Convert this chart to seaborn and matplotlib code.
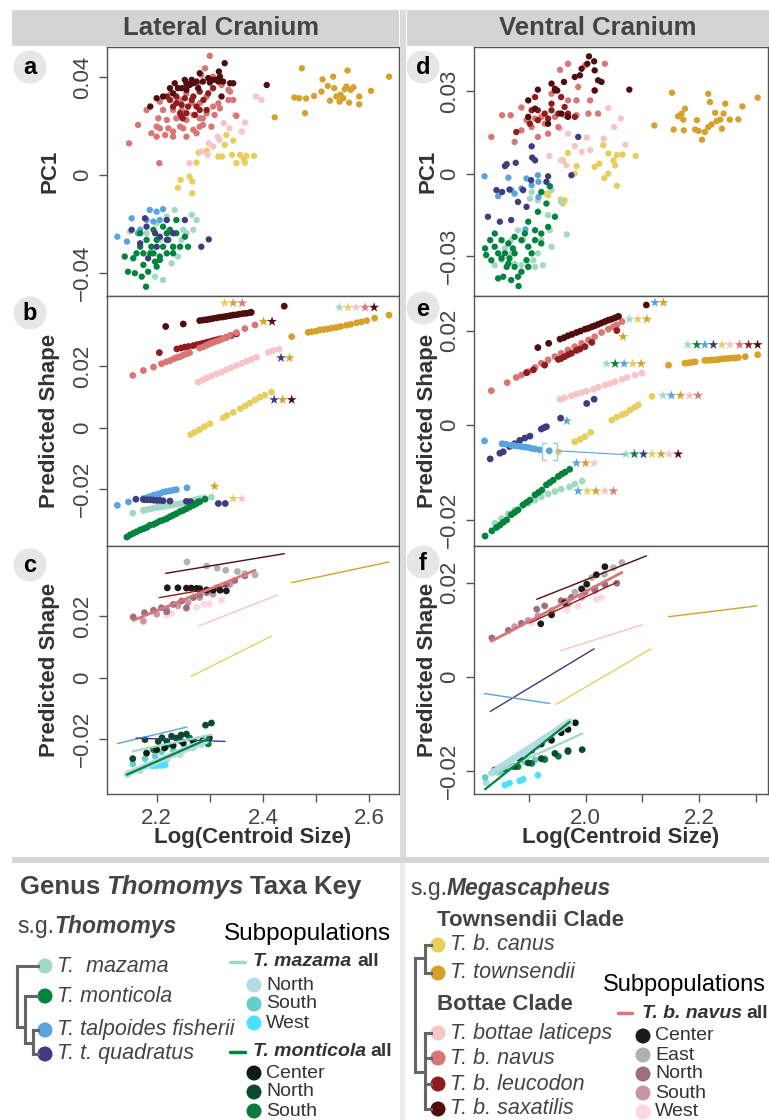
import numpy as np
import pandas as pd
import matplotlib
matplotlib.use("Agg")
import matplotlib.pyplot as plt
from matplotlib.patches import Rectangle, Circle
import seaborn as sns

# ============================================================
# COLOURS
# ============================================================

taxon_colors = {
    "mazama": "#A3D9C3", "monticola": "#00843D", "talpoides": "#5BA3DC",
    "quadratus": "#3D3C80", "canus": "#E6CE5F", "townsendii": "#D5A12B",
    "laticeps": "#F8C4C8", "navus": "#D97575", "leucodon": "#8F1C1E",
    "saxatilis": "#4F0E0E",
}
sub_colors = {
    "maz_N": "#B4DAE5", "maz_S": "#66CCCC", "maz_W": "#4DE1FF",
    "mont_C": "#0A1F12", "mont_N": "#0B4A2A", "mont_S": "#0A7A40",
    "navus_C": "#1A1A1A", "navus_E": "#B0B0B0", "navus_N": "#9C6E7E",
    "navus_S": "#C896A8", "navus_W": "#FFD6E6",
}
palette = {**taxon_colors, **sub_colors}

# ============================================================
# DATA : (a) LATERAL PC1
# ============================================================

lat_pc1 = {
    "townsendii": ([2.473, 2.512, 2.532, 2.559, 2.637, 2.603, 2.570, 2.565, 2.554, 2.546, 2.538, 2.526, 2.544, 2.562,
                    2.581, 2.581, 2.510, 2.496, 2.481, 2.468, 2.459, 2.479, 2.422, 2.522, 2.534, 2.551, 2.557],
                   [0.0435, 0.0390, 0.0401, 0.0426, 0.0401, 0.0343, 0.0358, 0.0347, 0.0350, 0.0327, 0.0320, 0.0303,
                    0.0299, 0.0295, 0.0320, 0.0288, 0.0340, 0.0322, 0.0312, 0.0313, 0.0316, 0.0252, 0.0235, 0.0363,
                    0.0354, 0.0313, 0.0361]),
    "canus": ([2.331, 2.344, 2.328, 2.357, 2.342, 2.369, 2.383, 2.366, 2.350, 2.323, 2.294, 2.279, 2.275, 2.262,
               2.267, 2.245, 2.240, 2.267, 2.316, 2.364],
              [0.0163, 0.0140, 0.0122, 0.0082, 0.0082, 0.0078, 0.0078, 0.0050, 0.0048, 0.0075, 0.0099, 0.0091,
               0.0050, -0.0007, -0.0027, -0.0020, -0.0052, -0.0075, 0.0075, 0.0064]),
    "laticeps": ([2.387, 2.397, 2.366, 2.347, 2.360, 2.326, 2.315, 2.298, 2.296, 2.262, 2.318, 2.337, 2.306, 2.284],
                 [0.0320, 0.0306, 0.0214, 0.0245, 0.0177, 0.0211, 0.0156, 0.0129, 0.0082, 0.0048, 0.0143, 0.0190,
                  0.0116, 0.0095]),
    "navus": ([2.300, 2.291, 2.284, 2.278, 2.306, 2.322, 2.338, 2.335, 2.319, 2.306, 2.294, 2.281, 2.269, 2.256,
               2.244, 2.231, 2.216, 2.200, 2.190, 2.206, 2.219, 2.203, 2.181, 2.165, 2.148, 2.205, 2.231, 2.244,
               2.256, 2.266, 2.281, 2.294, 2.309, 2.303, 2.287, 2.275, 2.256, 2.250, 2.222, 2.350, 2.281, 2.237,
               2.212, 2.247, 2.269, 2.206, 2.227, 2.335, 2.200, 2.231, 2.287, 2.316, 2.344],
              [0.0486, 0.0435, 0.0408, 0.0374, 0.0401, 0.0367, 0.0340, 0.0306, 0.0272, 0.0279, 0.0252, 0.0231,
               0.0245, 0.0224, 0.0197, 0.0177, 0.0163, 0.0156, 0.0170, 0.0190, 0.0224, 0.0231, 0.0265, 0.0204,
               0.0129, 0.0048, 0.0265, 0.0306, 0.0333, 0.0293, 0.0293, 0.0320, 0.0245, 0.0197, 0.0204, 0.0170,
               0.0156, 0.0190, 0.0190, 0.0241, 0.0197, 0.0231, 0.0265, 0.0265, 0.0184, 0.0299, 0.0333, 0.0347,
               0.0197, 0.0156, 0.0231, 0.0292, 0.0306]),
    "leucodon": ([2.244, 2.249, 2.259, 2.275, 2.266, 2.247, 2.231, 2.225, 2.219, 2.253, 2.288, 2.297, 2.281, 2.306,
                  2.256, 2.237, 2.294, 2.272, 2.247, 2.256, 2.237, 2.281, 2.269],
                 [0.0252, 0.0231, 0.0279, 0.0279, 0.0306, 0.0286, 0.0279, 0.0306, 0.0320, 0.0313, 0.0306, 0.0333,
                  0.0340, 0.0354, 0.0361, 0.0320, 0.0265, 0.0245, 0.0238, 0.0252, 0.0293, 0.0265, 0.0320]),
    "saxatilis": ([2.328, 2.317, 2.306, 2.297, 2.281, 2.269, 2.262, 2.256, 2.247, 2.231, 2.225, 2.212, 2.200, 2.188,
                   2.234, 2.253, 2.338, 2.344, 2.316, 2.287, 2.278, 2.322, 2.407, 2.319, 2.300, 2.266, 2.275, 2.313,
                   2.325, 2.240, 2.256],
                  [0.0456, 0.0422, 0.0388, 0.0395, 0.0415, 0.0374, 0.0367, 0.0374, 0.0354, 0.0333, 0.0354, 0.0320,
                   0.0313, 0.0279, 0.0374, 0.0388, 0.0374, 0.0374, 0.0381, 0.0381, 0.0354, 0.0320, 0.0367, 0.0401,
                   0.0377, 0.0388, 0.0381, 0.0388, 0.0381, 0.0354, 0.0347]),
    "mazama": ([2.234, 2.266, 2.275, 2.269, 2.247, 2.240, 2.228, 2.212, 2.197, 2.250, 2.219, 2.200, 2.181, 2.150,
                2.206, 2.231, 2.256, 2.222],
               [-0.0143, -0.0163, -0.0184, -0.0224, -0.0265, -0.0333, -0.0361, -0.0429, -0.0415, -0.0224, -0.0170,
                -0.0197, -0.0238, -0.0231, -0.0265, -0.0299, -0.0238, -0.0238]),
    "talpoides": ([2.126, 2.144, 2.153, 2.187, 2.200, 2.212, 2.169, 2.194, 2.181, 2.165, 2.206],
                  [-0.0252, -0.0272, -0.0177, -0.0143, -0.0150, -0.0140, -0.0224, -0.0190, -0.0184, -0.0238,
                   -0.0184]),
    "monticola": ([2.140, 2.146, 2.159, 2.172, 2.180, 2.184, 2.200, 2.206, 2.219, 2.231, 2.244, 2.259, 2.253, 2.237,
                   2.225, 2.212, 2.194, 2.181, 2.169, 2.156, 2.162, 2.194, 2.212, 2.169, 2.200, 2.237, 2.219, 2.190,
                   2.175, 2.188, 2.206, 2.231, 2.222, 2.175, 2.197],
                  [-0.0333, -0.0395, -0.0401, -0.0415, -0.0456, -0.0395, -0.0374, -0.0333, -0.0320, -0.0293, -0.0293,
                   -0.0293, -0.0252, -0.0238, -0.0224, -0.0211, -0.0224, -0.0265, -0.0293, -0.0340, -0.0320, -0.0320,
                   -0.0293, -0.0238, -0.0265, -0.0184, -0.0238, -0.0293, -0.0367, -0.0320, -0.0347, -0.0320, -0.0265,
                   -0.0320, -0.0354]),
    "quadratus": ([2.153, 2.178, 2.181, 2.197, 2.206, 2.219, 2.231, 2.253, 2.284, 2.298, 2.184, 2.169, 2.200, 2.219],
                  [-0.0224, -0.0177, -0.0211, -0.0238, -0.0252, -0.0265, -0.0238, -0.0184, -0.0293, -0.0263, -0.0340,
                   -0.0279, -0.0293, -0.0184]),
}

# ============================================================
# DATA : (b) LATERAL PREDICTED SHAPE
# ============================================================

lat_pred = {
    "townsendii": ([2.454, 2.485, 2.492, 2.500, 2.507, 2.515, 2.522, 2.530, 2.538, 2.546, 2.557, 2.565, 2.576, 2.585,
                    2.595, 2.610, 2.637],
                   [0.0296, 0.0310, 0.0312, 0.0314, 0.0318, 0.0319, 0.0321, 0.0324, 0.0326, 0.0329, 0.0333, 0.0336,
                    0.0341, 0.0344, 0.0348, 0.0356, 0.0366]),
    "canus": ([2.264, 2.272, 2.281, 2.290, 2.300, 2.325, 2.332, 2.344, 2.357, 2.366, 2.375, 2.385, 2.394, 2.403, 2.416],
              [-0.0022, -0.0014, -0.0006, 0.0004, 0.0013, 0.0032, 0.0040, 0.0050, 0.0062, 0.0071, 0.0080, 0.0090,
               0.0099, 0.0106, 0.0116]),
    "laticeps": ([2.278, 2.286, 2.294, 2.303, 2.313, 2.322, 2.331, 2.340, 2.350, 2.360, 2.369, 2.378, 2.388, 2.410,
                  2.419, 2.430],
                 [0.0148, 0.0155, 0.0162, 0.0168, 0.0175, 0.0181, 0.0188, 0.0195, 0.0202, 0.0209, 0.0216, 0.0222,
                  0.0229, 0.0245, 0.0251, 0.0255]),
    "leucodon": ([2.205, 2.238, 2.246, 2.253, 2.260, 2.269, 2.276, 2.282, 2.288, 2.295, 2.300, 2.306, 2.313, 2.320,
                  2.331, 2.340, 2.350],
                 [0.0244, 0.0256, 0.0259, 0.0262, 0.0264, 0.0267, 0.0270, 0.0272, 0.0275, 0.0278, 0.0280, 0.0283,
                  0.0286, 0.0289, 0.0294, 0.0299, 0.0305]),
    "navus": ([2.155, 2.175, 2.194, 2.209, 2.218, 2.225, 2.232, 2.238, 2.244, 2.250, 2.256, 2.262, 2.281, 2.288,
               2.294, 2.300, 2.306, 2.313, 2.319, 2.325, 2.331, 2.338, 2.350, 2.366, 2.385],
              [0.0170, 0.0186, 0.0197, 0.0208, 0.0214, 0.0218, 0.0224, 0.0228, 0.0231, 0.0236, 0.0240, 0.0244,
               0.0259, 0.0263, 0.0268, 0.0273, 0.0277, 0.0281, 0.0285, 0.0290, 0.0294, 0.0300, 0.0309, 0.0322,
               0.0334]),
    "saxatilis": ([2.217, 2.250, 2.281, 2.288, 2.294, 2.300, 2.306, 2.313, 2.319, 2.325, 2.331, 2.338, 2.344, 2.350,
                   2.356, 2.363, 2.369, 2.375, 2.378, 2.440],
                  [0.0329, 0.0337, 0.0348, 0.0350, 0.0351, 0.0353, 0.0355, 0.0357, 0.0359, 0.0360, 0.0362, 0.0364,
                   0.0366, 0.0367, 0.0369, 0.0371, 0.0372, 0.0374, 0.0375, 0.0395]),
    "talpoides": ([2.126, 2.147, 2.175, 2.181, 2.187, 2.194, 2.200, 2.206, 2.212, 2.218, 2.225, 2.231, 2.237, 2.257],
                  [-0.0252, -0.0241, -0.0230, -0.0227, -0.0224, -0.0219, -0.0217, -0.0214, -0.0209, -0.0207, -0.0205,
                   -0.0203, -0.0201, -0.0195]),
    "mazama": ([2.155, 2.175, 2.181, 2.188, 2.194, 2.200, 2.206, 2.212, 2.219, 2.225, 2.231, 2.237, 2.244, 2.250,
                2.256, 2.262, 2.269, 2.275, 2.281, 2.290, 2.303],
               [-0.0277, -0.0268, -0.0266, -0.0264, -0.0261, -0.0259, -0.0257, -0.0256, -0.0254, -0.0252, -0.0250,
                -0.0248, -0.0246, -0.0244, -0.0241, -0.0238, -0.0236, -0.0233, -0.0230, -0.0228, -0.0225]),
    "quadratus": ([2.161, 2.175, 2.181, 2.188, 2.194, 2.200, 2.206, 2.212, 2.225, 2.256, 2.264, 2.278, 2.316, 2.329],
                  [-0.0232, -0.0233, -0.0234, -0.0234, -0.0235, -0.0236, -0.0236, -0.0237, -0.0238, -0.0239, -0.0240,
                   -0.0241, -0.0246, -0.0246]),
    "monticola": ([2.144, 2.150, 2.156, 2.162, 2.169, 2.175, 2.181, 2.187, 2.194, 2.200, 2.206, 2.212, 2.219, 2.225,
                   2.231, 2.237, 2.244, 2.250, 2.256, 2.262, 2.269, 2.275, 2.281, 2.291],
                  [-0.0355, -0.0348, -0.0343, -0.0338, -0.0332, -0.0328, -0.0324, -0.0317, -0.0314, -0.0309, -0.0303,
                   -0.0300, -0.0295, -0.0289, -0.0284, -0.0279, -0.0272, -0.0268, -0.0263, -0.0257, -0.0252, -0.0246,
                   -0.0240, -0.0232]),
}

lat_star_x = [2.328, 2.344, 2.361, 2.401, 2.417, 2.544, 2.560, 2.575, 2.592, 2.609, 2.434, 2.450, 2.421, 2.437,
              2.454, 2.309, 2.344, 2.360]
lat_star_y = [0.0405, 0.0405, 0.0405, 0.0345, 0.0345, 0.0391, 0.0391, 0.0391, 0.0391, 0.0391, 0.0227, 0.0227,
              0.0091, 0.0091, 0.0091, -0.0190, -0.0230, -0.0230]
lat_star_taxon = ["canus", "townsendii", "navus", "townsendii", "saxatilis", "mazama", "canus", "laticeps", "navus",
                  "saxatilis", "quadratus", "townsendii", "quadratus", "townsendii", "saxatilis", "townsendii",
                  "canus", "laticeps"]

# ============================================================
# DATA : (c) LATERAL SUBPOPULATIONS
# ============================================================

lat_lines = {
    "saxatilis": ([2.217, 2.440], [0.0340, 0.0404]),
    "leucodon": ([2.205, 2.331], [0.0261, 0.0299]),
    "navus": ([2.156, 2.385], [0.0187, 0.0350]),
    "laticeps": ([2.278, 2.428], [0.0168, 0.0270]),
    "canus": ([2.265, 2.416], [0.0005, 0.0136]),
    "townsendii": ([2.454, 2.637], [0.0310, 0.0377]),
    "talpoides": ([2.126, 2.257], [-0.0214, -0.0160]),
    "quadratus": ([2.161, 2.329], [-0.0196, -0.0207]),
    "mazama": ([2.155, 2.303], [-0.0239, -0.0185]),
    "monticola": ([2.144, 2.300], [-0.0315, -0.0196]),
}
lat_band = ([2.144, 2.293], [-0.0313, -0.0205])

lat_sub = {
    "maz_N": ([2.145, 2.169, 2.194, 2.219, 2.244, 2.269, 2.285],
              [-0.0315, -0.0302, -0.0285, -0.0266, -0.0250, -0.0228, -0.0217]),
    "maz_S": ([2.155, 2.178, 2.197, 2.209, 2.231, 2.253, 2.275],
              [-0.0280, -0.0263, -0.0255, -0.0241, -0.0234, -0.0226, -0.0212]),
    "maz_W": ([2.181, 2.192, 2.200, 2.209, 2.216], [-0.0285, -0.0286, -0.0286, -0.0285, -0.0284]),
    "mont_S": ([2.194, 2.219, 2.244, 2.262, 2.281, 2.297], [-0.0234, -0.0220, -0.0204, -0.0196, -0.0212, -0.0215]),
    "mont_N": ([2.155, 2.178, 2.203, 2.210, 2.219, 2.228, 2.237, 2.246, 2.256, 2.292, 2.303],
               [-0.0263, -0.0201, -0.0207, -0.0195, -0.0207, -0.0190, -0.0196, -0.0186, -0.0183, -0.0154, -0.0147]),
    "mont_C": ([2.181, 2.200, 2.215, 2.231, 2.250, 2.269, 2.287, 2.299],
               [-0.0245, -0.0234, -0.0228, -0.0220, -0.0212, -0.0207, -0.0204, -0.0196]),
    "navus_W": ([2.175, 2.218, 2.228, 2.256, 2.275, 2.289, 2.299, 2.322],
                [0.0182, 0.0204, 0.0209, 0.0223, 0.0230, 0.0239, 0.0241, 0.0252]),
    "navus_S": ([2.175, 2.200, 2.219, 2.240, 2.259, 2.281, 2.306, 2.338],
                [0.0185, 0.0207, 0.0223, 0.0234, 0.0245, 0.0261, 0.0272, 0.0304]),
    "navus_N": ([2.156, 2.177, 2.194, 2.209, 2.219, 2.231, 2.247, 2.256, 2.269, 2.281, 2.294, 2.313, 2.331, 2.347,
                 2.366],
                [0.0198, 0.0212, 0.0220, 0.0228, 0.0215, 0.0239, 0.0250, 0.0228, 0.0261, 0.0270, 0.0277, 0.0293,
                 0.0304, 0.0317, 0.0332]),
    "navus_E": ([2.257, 2.294, 2.314, 2.330, 2.352, 2.366, 2.385],
                [0.0377, 0.0364, 0.0357, 0.0350, 0.0346, 0.0339, 0.0335]),
    "navus_C": ([2.220, 2.240, 2.256, 2.265, 2.275, 2.281, 2.294, 2.306, 2.319, 2.331],
                [0.0293, 0.0293, 0.0292, 0.0292, 0.0291, 0.0290, 0.0286, 0.0285, 0.0285, 0.0283]),
}

# ============================================================
# DATA : (d) VENTRAL PC1
# ============================================================

ven_pc1 = {
    "townsendii": ([2.152, 2.216, 2.303, 2.276, 2.246, 2.219, 2.228, 2.243, 2.269, 2.254, 2.237, 2.231, 2.222, 2.216,
                    2.210, 2.205, 2.196, 2.199, 2.240, 2.175, 2.169, 2.163, 2.172, 2.155, 2.173, 2.121, 2.193],
                   [0.0294, 0.0290, 0.0276, 0.0244, 0.0254, 0.0260, 0.0221, 0.0218, 0.0197, 0.0196, 0.0196, 0.0191,
                    0.0179, 0.0169, 0.0151, 0.0123, 0.0194, 0.0155, 0.0163, 0.0236, 0.0218, 0.0208, 0.0196, 0.0160,
                    0.0157, 0.0175, 0.0160]),
    "canus": ([2.031, 2.040, 2.055, 2.065, 2.088, 2.049, 2.052, 2.040, 2.033, 2.055, 2.024, 2.016, 1.969, 1.960,
               1.984, 1.981, 1.956, 1.963, 1.960, 1.934, 1.931],
              [0.0103, 0.0073, 0.0067, 0.0069, 0.0064, 0.0048, 0.0030, 0.0000, -0.0016, -0.0045, 0.0036, 0.0024,
               0.0075, 0.0048, 0.0027, 0.0000, -0.0094, -0.0097, -0.0109, -0.0079, -0.0073]),
    "laticeps": ([2.040, 2.062, 2.050, 2.032, 2.070, 2.002, 1.981, 1.993, 1.969, 1.955, 1.936, 1.957, 1.966, 2.008],
                 [0.0238, 0.0200, 0.0169, 0.0127, 0.0105, 0.0131, 0.0100, 0.0079, 0.0145, 0.0163, 0.0064, 0.0048,
                  0.0030, 0.0085]),
    "navus": ([1.969, 1.999, 2.034, 1.955, 2.016, 2.008, 2.005, 2.022, 1.984, 1.963, 1.946, 1.922, 1.911, 1.896,
               1.887, 1.868, 1.853, 1.834, 1.875, 1.887, 1.905, 1.899, 1.928, 1.952, 1.934, 1.916, 1.969, 1.984,
               1.940, 1.987],
              [0.0399, 0.0393, 0.0399, 0.0377, 0.0302, 0.0266, 0.0218, 0.0218, 0.0212, 0.0212, 0.0206, 0.0206,
               0.0200, 0.0194, 0.0240, 0.0212, 0.0212, 0.0133, 0.0115, 0.0157, 0.0169, 0.0194, 0.0181, 0.0169,
               0.0145, 0.0133, 0.0266, 0.0266, 0.0290, 0.0315]),
    "leucodon": ([1.946, 1.957, 1.963, 1.952, 1.940, 1.928, 1.916, 1.905, 1.911, 1.940, 1.969, 1.981, 1.934, 1.878,
                  1.902, 1.916],
                 [0.0302, 0.0278, 0.0242, 0.0218, 0.0230, 0.0218, 0.0230, 0.0230, 0.0278, 0.0254, 0.0218, 0.0206,
                  0.0200, 0.0151, 0.0181, 0.0194]),
    "saxatilis": ([2.006, 2.015, 2.003, 1.993, 2.016, 2.028, 2.022, 1.990, 1.981, 1.962, 1.946, 1.916, 1.950, 2.016,
                   2.077, 1.899, 1.911, 1.899, 1.934, 1.957, 1.969, 1.940],
                  [0.0426, 0.0408, 0.0399, 0.0381, 0.0375, 0.0333, 0.0339, 0.0357, 0.0351, 0.0333, 0.0308, 0.0305,
                   0.0302, 0.0302, 0.0305, 0.0266, 0.0236, 0.0206, 0.0181, 0.0218, 0.0206, 0.0327]),
    "mazama": ([1.905, 1.916, 1.902, 1.940, 1.957, 1.967, 1.934, 1.937, 1.922, 1.916, 1.899, 1.887, 1.869, 1.852,
                1.840, 1.908, 1.869, 1.881, 1.925, 1.940, 1.890, 1.858, 1.899, 1.875, 1.911],
               [-0.0067, -0.0097, -0.0091, -0.0060, -0.0103, -0.0221, -0.0151, -0.0206, -0.0242, -0.0290, -0.0339,
                -0.0333, -0.0290, -0.0315, -0.0333, -0.0315, -0.0242, -0.0206, -0.0333, -0.0266, -0.0242, -0.0272,
                -0.0266, -0.0327, -0.0339]),
    "talpoides": ([1.822, 1.864, 1.896, 1.916, 1.917, 1.846, 1.869, 1.887, 1.905, 1.917, 1.894, 1.875],
                  [-0.0010, -0.0015, -0.0018, -0.0006, -0.0030, -0.0082, -0.0060, -0.0054, -0.0042, -0.0085, -0.0203,
                   -0.0073]),
    "quadratus": ([1.987, 1.905, 1.906, 1.911, 1.861, 1.858, 1.877, 1.843, 1.853, 1.866, 1.828, 1.849, 1.869, 1.890,
                   1.881, 1.934, 1.975, 1.931, 1.896, 1.904],
                  [0.0133, 0.0099, 0.0058, 0.0048, 0.0034, 0.0027, 0.0039, -0.0060, -0.0067, -0.0058, -0.0157,
                   -0.0175, -0.0169, -0.0060, -0.0103, -0.0010, -0.0006, -0.0030, -0.0121, -0.0024]),
    "monticola": ([1.937, 1.922, 1.931, 1.916, 1.899, 1.911, 1.922, 1.911, 1.899, 1.887, 1.875, 1.864, 1.852, 1.840,
                   1.832, 1.823, 1.825, 1.834, 1.852, 1.864, 1.875, 1.887, 1.881, 1.869, 1.855, 1.846, 1.882, 1.899,
                   1.922, 1.934, 1.946, 1.875, 1.858, 1.840, 1.846, 1.866, 1.872, 1.893, 1.905, 1.861, 1.896],
                  [-0.0046, -0.0067, -0.0109, -0.0139, -0.0175, -0.0206, -0.0218, -0.0242, -0.0266, -0.0242, -0.0230,
                   -0.0254, -0.0242, -0.0218, -0.0242, -0.0272, -0.0296, -0.0315, -0.0308, -0.0327, -0.0339, -0.0357,
                   -0.0375, -0.0387, -0.0375, -0.0381, -0.0409, -0.0339, -0.0254, -0.0194, -0.0157, -0.0290, -0.0290,
                   -0.0266, -0.0290, -0.0308, -0.0272, -0.0218, -0.0290, -0.0339, -0.0315]),
}

# ============================================================
# DATA : (e) VENTRAL PREDICTED SHAPE
# ============================================================

ven_pred = {
    "townsendii": ([2.146, 2.175, 2.181, 2.187, 2.193, 2.210, 2.216, 2.222, 2.228, 2.234, 2.240, 2.246, 2.252, 2.258,
                    2.263, 2.269, 2.281, 2.303],
                   [0.0127, 0.0131, 0.0132, 0.0133, 0.0134, 0.0137, 0.0137, 0.0138, 0.0138, 0.0139, 0.0140, 0.0141,
                    0.0141, 0.0142, 0.0142, 0.0143, 0.0145, 0.0149]),
    "canus": ([1.952, 1.981, 1.990, 1.999, 2.009, 2.046, 2.055, 2.064, 2.070, 2.078, 2.087, 2.093, 2.117],
              [-0.0056, -0.0035, -0.0030, -0.0024, -0.0015, 0.0011, 0.0017, 0.0022, 0.0025, 0.0032, 0.0038, 0.0043,
               0.0061]),
    "laticeps": ([1.955, 1.963, 1.975, 1.984, 1.993, 2.002, 2.014, 2.022, 2.034, 2.043, 2.052, 2.064, 2.073, 2.087,
                  2.099],
                 [0.0055, 0.0058, 0.0062, 0.0066, 0.0069, 0.0072, 0.0076, 0.0080, 0.0085, 0.0088, 0.0092, 0.0097,
                  0.0101, 0.0106, 0.0110]),
    "navus": ([1.834, 1.862, 1.878, 1.887, 1.899, 1.911, 1.922, 1.934, 1.946, 1.957, 1.969, 1.981, 1.993, 2.005,
               2.016, 2.028, 2.040, 2.049, 2.055, 2.064],
              [0.0073, 0.0090, 0.0101, 0.0106, 0.0113, 0.0122, 0.0131, 0.0138, 0.0145, 0.0152, 0.0159, 0.0166,
               0.0173, 0.0180, 0.0187, 0.0196, 0.0203, 0.0208, 0.0212, 0.0219]),
    "leucodon": ([1.896, 1.908, 1.928, 1.952, 1.957, 1.963, 1.969, 1.975, 1.984, 1.990, 1.999, 2.011, 2.055],
                 [0.0111, 0.0117, 0.0127, 0.0139, 0.0141, 0.0145, 0.0149, 0.0152, 0.0158, 0.0161, 0.0166, 0.0175,
                  0.0200]),
    "saxatilis": ([1.916, 1.935, 1.955, 1.962, 1.969, 1.976, 1.984, 1.991, 1.999, 2.005, 2.011, 2.016, 2.022, 2.028,
                   2.034, 2.040, 2.046, 2.052, 2.058, 2.107],
                  [0.0164, 0.0173, 0.0182, 0.0185, 0.0189, 0.0192, 0.0196, 0.0199, 0.0203, 0.0205, 0.0208, 0.0210,
                   0.0213, 0.0216, 0.0219, 0.0222, 0.0224, 0.0227, 0.0230, 0.0254]),
    "quadratus": ([1.832, 1.849, 1.855, 1.866, 1.875, 1.884, 1.893, 1.902, 1.922, 1.927, 1.931, 1.956, 2.002, 2.015],
                  [-0.0071, -0.0059, -0.0056, -0.0045, -0.0039, -0.0032, -0.0027, -0.0023, -0.0008, -0.0005, -0.0003,
                   0.0015, 0.0046, 0.0055]),
    "talpoides": ([1.822, 1.853, 1.860, 1.869, 1.875, 1.881, 1.887, 1.893, 1.899, 1.905, 1.911, 1.919, 1.936],
                  [-0.0033, -0.0039, -0.0040, -0.0042, -0.0043, -0.0044, -0.0045, -0.0046, -0.0047, -0.0049, -0.0050,
                   -0.0052, -0.0054]),
    "mazama": ([1.840, 1.852, 1.864, 1.875, 1.887, 1.899, 1.911, 1.922, 1.934, 1.946, 1.957, 1.972, 1.981, 1.994],
               [-0.0207, -0.0197, -0.0187, -0.0179, -0.0172, -0.0165, -0.0158, -0.0151, -0.0145, -0.0140, -0.0135,
                -0.0130, -0.0124, -0.0118]),
    "monticola": ([1.823, 1.835, 1.843, 1.849, 1.855, 1.861, 1.869, 1.875, 1.881, 1.890, 1.896, 1.902, 1.911, 1.917,
                   1.923, 1.931, 1.937, 1.943, 1.952, 1.958, 1.964, 1.972],
                  [-0.0234, -0.0223, -0.0216, -0.0211, -0.0205, -0.0200, -0.0189, -0.0184, -0.0179, -0.0168, -0.0163,
                   -0.0158, -0.0147, -0.0142, -0.0137, -0.0126, -0.0121, -0.0116, -0.0108, -0.0103, -0.0099, -0.0093]),
}

ven_star_x = [2.122, 2.137, 2.077, 2.092, 2.108, 2.066, 2.180, 2.196, 2.210, 2.225, 2.240, 2.254, 2.271, 2.287,
              2.303, 2.037, 2.052, 2.068, 2.083, 2.098, 2.136, 2.151, 2.167, 2.183, 2.198, 1.967, 2.071, 2.086,
              2.102, 2.117, 2.133, 2.147, 2.163, 1.984, 2.000, 2.015, 1.987, 2.003, 2.018, 2.034, 2.049]
ven_star_y = [0.0259, 0.0259, 0.0224, 0.0224, 0.0224, 0.0187, 0.0170, 0.0170, 0.0170, 0.0170, 0.0170, 0.0170,
              0.0170, 0.0170, 0.0170, 0.0130, 0.0130, 0.0130, 0.0130, 0.0130, 0.0063, 0.0063, 0.0063, 0.0063,
              0.0063, 0.0009, -0.0061, -0.0061, -0.0061, -0.0061, -0.0061, -0.0061, -0.0061, -0.0080, -0.0080,
              -0.0080, -0.0139, -0.0139, -0.0139, -0.0139, -0.0139]
ven_star_taxon = ["talpoides", "townsendii", "mazama", "canus", "townsendii", "townsendii", "mazama", "monticola",
                  "talpoides", "quadratus", "canus", "laticeps", "navus", "leucodon", "saxatilis", "mazama",
                  "monticola", "talpoides", "canus", "townsendii", "mazama", "talpoides", "townsendii", "laticeps",
                  "navus", "talpoides", "mazama", "monticola", "quadratus", "canus", "townsendii", "laticeps",
                  "saxatilis", "talpoides", "townsendii", "laticeps", "talpoides", "canus", "townsendii",
                  "laticeps", "navus"]

ven_bracket_left_x = [1.931, 1.9235, 1.9235, 1.931]
ven_bracket_right_x = [1.9425, 1.950, 1.950, 1.9425]
ven_bracket_y = [-0.0037, -0.0037, -0.0073, -0.0073]
ven_link_x = [1.950, 2.070]
ven_link_y = [-0.0054, -0.0062]

# ============================================================
# DATA : (f) VENTRAL SUBPOPULATIONS
# ============================================================

ven_lines = {
    "saxatilis": ([1.914, 2.107], [0.0165, 0.0257]),
    "leucodon": ([1.902, 2.055], [0.0115, 0.0201]),
    "navus": ([1.834, 2.064], [0.0076, 0.0222]),
    "laticeps": ([1.956, 2.100], [0.0056, 0.0111]),
    "townsendii": ([2.146, 2.302], [0.0128, 0.0151]),
    "quadratus": ([1.832, 2.015], [-0.0073, 0.0060]),
    "talpoides": ([1.822, 1.937], [-0.0035, -0.0056]),
    "canus": ([1.948, 2.115], [-0.0058, 0.0060]),
    "mazama": ([1.840, 1.994], [-0.0204, -0.0120]),
    "monticola": ([1.823, 1.972], [-0.0238, -0.0095]),
}
ven_band = ([1.834, 1.972], [-0.0204, -0.0095])

ven_sub = {
    "maz_N": ([1.825, 1.846, 1.869, 1.893, 1.916, 1.940, 1.963],
              [-0.0224, -0.0204, -0.0185, -0.0165, -0.0146, -0.0128, -0.0109]),
    "maz_S": ([1.823, 1.852, 1.869, 1.893, 1.911, 1.928], [-0.0213, -0.0201, -0.0190, -0.0180, -0.0176, -0.0173]),
    "maz_W": ([1.858, 1.866, 1.884, 1.890, 1.916], [-0.0229, -0.0225, -0.0220, -0.0217, -0.0208]),
    "mont_S": ([1.858, 1.881, 1.905, 1.928, 1.952, 1.969], [-0.0194, -0.0190, -0.0183, -0.0175, -0.0168, -0.0158]),
    "mont_N": ([1.843, 1.875, 1.899, 1.922, 1.946, 1.969, 1.994],
               [-0.0197, -0.0190, -0.0182, -0.0173, -0.0162, -0.0156, -0.0154]),
    "mont_C": ([1.840, 1.864, 1.884, 1.905, 1.922, 1.940, 1.957, 1.969, 1.982],
               [-0.0197, -0.0182, -0.0173, -0.0155, -0.0142, -0.0134, -0.0118, -0.0111, -0.0097]),
    "navus_W": ([1.864, 1.905, 1.966, 1.987, 2.019, 2.028], [0.0099, 0.0114, 0.0142, 0.0151, 0.0165, 0.0169]),
    "navus_S": ([1.875, 1.899, 1.916, 1.940, 1.969, 1.993, 2.016],
                [0.0107, 0.0120, 0.0130, 0.0141, 0.0155, 0.0169, 0.0183]),
    "navus_N": ([1.835, 1.864, 1.887, 1.914, 1.928, 1.957, 1.975, 1.999, 2.016, 2.034, 2.055],
                [0.0083, 0.0099, 0.0114, 0.0144, 0.0151, 0.0162, 0.0169, 0.0180, 0.0187, 0.0196, 0.0199]),
    "navus_E": ([1.981, 2.011, 2.033, 2.064, 2.049, 1.966], [0.0180, 0.0211, 0.0218, 0.0243, 0.0232, 0.0162]),
    "navus_C": ([1.921, 1.940, 1.963, 1.993, 2.002, 2.019, 2.034],
                [0.0113, 0.0132, 0.0158, 0.0187, 0.0197, 0.0217, 0.0234]),
}

# ============================================================
# THEME
# ============================================================

sns.set_style("ticks")
plt.rcParams["font.family"] = ["Liberation Sans", "DejaVu Sans"]

W, H = 769, 1120
fig = plt.figure(figsize=(W / 100, H / 100), dpi=100)
fig.patch.set_facecolor("white")


def panel(x0, y0, x1, y1):
    return fig.add_axes([x0 / W, 1 - y1 / H, (x1 - x0) / W, (y1 - y0) / H])


def long_frame(groups):
    rows = [(g, x, y) for g, (xs, ys) in groups.items() for x, y in zip(xs, ys)]
    return pd.DataFrame(rows, columns=["group", "x", "y"])


def draw_points(ax, groups, size=21):
    sns.scatterplot(data=long_frame(groups), x="x", y="y", hue="group", palette=palette,
                    s=size, linewidth=0, legend=False, ax=ax)


def draw_stars(ax, xs, ys, taxa):
    df = pd.DataFrame({"x": xs, "y": ys, "group": taxa})
    sns.scatterplot(data=df, x="x", y="y", hue="group", palette=palette, marker="*",
                    s=55, linewidth=0, legend=False, ax=ax)


def draw_lines(ax, lines, widths):
    for name, (xs, ys) in lines.items():
        sns.lineplot(x=xs, y=ys, color=taxon_colors[name], linewidth=widths.get(name, 1.0),
                     estimator=None, sort=False, ax=ax)


def tick_text(v):
    return "0" if v == 0 else f"{v:.2f}".replace("-", "\u2212")


def style_axes(ax, xlim, ylim, yticks, xticks=None, xlabels=None):
    ax.set_xlim(*xlim)
    ax.set_ylim(*ylim)
    ax.set_xlabel("")
    ax.set_ylabel("")
    for sp in ax.spines.values():
        sp.set_visible(True)
        sp.set_color("#555555")
        sp.set_linewidth(1.0)
    ax.set_yticks(yticks)
    ax.set_yticklabels([tick_text(v) for v in yticks], rotation=90, va="center")
    if xticks is None:
        ax.set_xticks([])
    else:
        ax.set_xticks(xticks)
        ax.set_xticklabels(xlabels)
    ax.tick_params(axis="both", direction="out", length=6, width=1, color="#555555",
                   labelcolor="#444444", labelsize=16, pad=4)


LAT_X = (2.1066, 2.6558)
VEN_X = (1.8035, 2.3212)
lat_xticks, lat_xlabels = [2.2, 2.3, 2.4, 2.5, 2.6], ["2.2", "", "2.4", "", "2.6"]
ven_xticks, ven_xlabels = [1.9, 2.0, 2.1, 2.2, 2.3], ["", "2.0", "", "2.2", ""]

sub_widths = {"navus": 2.0, "mazama": 1.6, "monticola": 1.6}

# ---------------- lateral column ----------------
ax_a = panel(107, 47, 399, 296)
draw_points(ax_a, lat_pc1)
style_axes(ax_a, LAT_X, (-0.0494, 0.0522), [-0.04, 0, 0.04])

ax_b = panel(107, 296, 399, 546)
draw_points(ax_b, lat_pred, size=24)
draw_stars(ax_b, lat_star_x, lat_star_y, lat_star_taxon)
style_axes(ax_b, LAT_X, (-0.0384, 0.0428), [-0.02, 0, 0.02])

ax_c = panel(107, 546, 399, 794)
sns.lineplot(x=lat_band[0], y=lat_band[1], color=sub_colors["maz_N"], linewidth=4.5, ax=ax_c)
draw_points(ax_c, lat_sub, size=24)
draw_lines(ax_c, lat_lines, sub_widths)
style_axes(ax_c, LAT_X, (-0.0378, 0.0429), [-0.02, 0, 0.02], lat_xticks, lat_xlabels)

# ---------------- ventral column ----------------
ax_d = panel(474, 47, 768, 296)
draw_points(ax_d, ven_pc1)
style_axes(ax_d, VEN_X, (-0.0445, 0.0460), [-0.03, 0, 0.03])

ax_e = panel(474, 296, 768, 546)
draw_points(ax_e, ven_pred, size=24)
sns.lineplot(x=ven_link_x, y=ven_link_y, color=taxon_colors["talpoides"], linewidth=0.8, ax=ax_e)
sns.lineplot(x=ven_bracket_left_x, y=ven_bracket_y, color="#9CC8EC", linewidth=1.0,
             estimator=None, sort=False, ax=ax_e)
sns.lineplot(x=ven_bracket_right_x, y=ven_bracket_y, color="#9CC8EC", linewidth=1.0,
             estimator=None, sort=False, ax=ax_e)
draw_stars(ax_e, ven_star_x, ven_star_y, ven_star_taxon)
style_axes(ax_e, VEN_X, (-0.0255, 0.0273), [-0.02, 0, 0.02])

ax_f = panel(474, 546, 768, 794)
sns.lineplot(x=ven_band[0], y=ven_band[1], color=sub_colors["maz_N"], linewidth=5, ax=ax_f)
draw_points(ax_f, ven_sub, size=24)
draw_lines(ax_f, ven_lines, sub_widths)
style_axes(ax_f, VEN_X, (-0.0248, 0.0278), [-0.02, 0, 0.02], ven_xticks, ven_xlabels)

# ============================================================
# OVERLAY (pixel coordinates) : strips, labels, taxa key
# ============================================================

ov = fig.add_axes([0, 0, 1, 1])
ov.set_xlim(0, W)
ov.set_ylim(H, 0)
ov.axis("off")
ov.patch.set_alpha(0)

GREY_TXT = "#444444"
ov.add_patch(Rectangle((12, 10), 387, 36, color="#D4D4D4", lw=0))
ov.add_patch(Rectangle((407, 10), 362, 36, color="#D4D4D4", lw=0))
ov.add_patch(Rectangle((400, 10), 6, 848, color="#DCDCDC", lw=0))
ov.add_patch(Rectangle((12, 857), 757, 6, color="#D6D6D6", lw=0))
ov.add_patch(Rectangle((400, 863), 5, 257, color="#EDEDED", lw=0))

ov.text(221, 28, "Lateral Cranium", ha="center", va="center", fontsize=18.5, fontweight="bold", color=GREY_TXT)
ov.text(598, 28, "Ventral Cranium", ha="center", va="center", fontsize=18.5, fontweight="bold", color=GREY_TXT)

for (cx, cy), letter in zip([(30, 67), (30, 313), (30, 565), (423, 67), (423, 308), (423, 562)], "abcdef"):
    ov.add_patch(Circle((cx, cy), 16.5, color="#E6E6E6", lw=0))
    ov.text(cx, cy + 1, letter, ha="center", va="center", fontsize=17, fontweight="bold", color="black")

for lx in (50, 428):
    ov.text(lx, 171, "PC1", rotation=90, ha="center", va="center", fontsize=16, fontweight="bold", color="#333333")
    ov.text(lx, 421, "Predicted Shape", rotation=90, ha="center", va="center", fontsize=16,
            fontweight="bold", color="#333333")
    ov.text(lx, 670, "Predicted Shape", rotation=90, ha="center", va="center", fontsize=16,
            fontweight="bold", color="#333333")
ov.text(253, 838, "Log(Centroid Size)", ha="center", va="center", fontsize=16, fontweight="bold", color="#333333")
ov.text(621, 838, "Log(Centroid Size)", ha="center", va="center", fontsize=16, fontweight="bold", color="#333333")

renderer = fig.canvas.get_renderer()


def chain(x, y, parts, size, color):
    for text, weight, style, gap in parts:
        t = ov.text(x, y, text, fontsize=size, fontweight=weight, fontstyle=style, color=color,
                    va="center", ha="left")
        bb = t.get_window_extent(renderer=renderer)
        x = ov.transData.inverted().transform((bb.x1, bb.y0))[0] + gap


def tree(segments):
    for (x0, y0), (x1, y1) in segments:
        ov.plot([x0, x1], [y0, y1], color="#666666", lw=2.2, solid_capstyle="projecting")


def key_item(x, y, color, label, size=15.5, style="italic", r=7.5, tcolor=GREY_TXT, dx=12):
    ov.add_patch(Circle((x, y), r, color=color, lw=0))
    ov.text(x + dx, y, label, fontsize=size, fontstyle=style, color=tcolor, va="center", ha="left")


SUB_SIZE = 14

# ---------------- left key ----------------
chain(20, 887, [("Genus", "bold", "normal", 6), ("Thomomys", "bold", "italic", 6),
                ("Taxa Key", "bold", "normal", 0)], 18.5, GREY_TXT)
chain(17, 926, [("s.g.", "normal", "normal", 0), ("Thomomys", "bold", "italic", 0)], 16.5, GREY_TXT)

tree([((17, 966), (38, 966)), ((17, 966), (17, 1027)), ((17, 1027), (25, 1027)),
      ((25, 996), (25, 1043)), ((25, 996), (38, 996)), ((25, 1043), (33, 1043)),
      ((33, 1030), (33, 1054)), ((33, 1030), (38, 1030)), ((33, 1054), (38, 1054))])
key_item(45, 966, taxon_colors["mazama"], "T.  mazama")
key_item(45, 996, taxon_colors["monticola"], "T. monticola")
key_item(45, 1030, taxon_colors["talpoides"], "T. talpoides fisherii")
key_item(45, 1054, taxon_colors["quadratus"], "T. t. quadratus")

ov.text(224, 934, "Subpopulations", fontsize=17.5, color="black", va="center", ha="left")
ov.plot([230, 245], [962, 962], color=taxon_colors["mazama"], lw=2.5)
chain(253, 962, [("T. mazama", "bold", "italic", 6), ("all", "bold", "normal", 0)], 14, "#333333")
key_item(254, 985, sub_colors["maz_N"], "North", size=SUB_SIZE, style="normal", tcolor="#333333")
key_item(254, 1004, sub_colors["maz_S"], "South", size=SUB_SIZE, style="normal", tcolor="#333333")
key_item(254, 1023, sub_colors["maz_W"], "West", size=SUB_SIZE, style="normal", tcolor="#333333")
ov.plot([230, 245], [1052, 1052], color=taxon_colors["monticola"], lw=2.5)
chain(253, 1052, [("T. monticola", "bold", "italic", 4), ("all", "bold", "normal", 0)], 14, "#333333")
key_item(254, 1073, sub_colors["mont_C"], "Center", size=SUB_SIZE, style="normal", tcolor="#333333")
key_item(254, 1092, sub_colors["mont_N"], "North", size=SUB_SIZE, style="normal", tcolor="#333333")
key_item(254, 1111, sub_colors["mont_S"], "South", size=SUB_SIZE, style="normal", tcolor="#333333")

# ---------------- right key ----------------
chain(410, 888, [("s.g.", "normal", "normal", 0), ("Megascapheus", "bold", "italic", 0)], 16.5, GREY_TXT)
ov.text(437, 920, "Townsendii Clade", fontsize=16, fontweight="bold", color=GREY_TXT, va="center")
ov.text(437, 1005, "Bottae Clade", fontsize=16, fontweight="bold", color=GREY_TXT, va="center")
tree([((415, 958), (415, 1072)), ((415, 958), (425, 958)), ((425, 945), (425, 973)),
      ((425, 945), (431, 945)), ((425, 973), (431, 973)), ((415, 1072), (425, 1072)),
      ((425, 1033), (425, 1109)), ((425, 1033), (431, 1033)), ((425, 1058), (431, 1058)),
      ((425, 1084), (431, 1084)), ((425, 1109), (431, 1109))])
key_item(438, 945, taxon_colors["canus"], "T. b. canus")
key_item(438, 973, taxon_colors["townsendii"], "T. townsendii")
key_item(438, 1033, taxon_colors["laticeps"], "T. bottae laticeps")
key_item(438, 1058, taxon_colors["navus"], "T. b. navus")
key_item(438, 1084, taxon_colors["leucodon"], "T. b. leucodon")
key_item(438, 1109, taxon_colors["saxatilis"], "T. b. saxatilis")

ov.text(603, 985, "Subpopulations", fontsize=17, color="black", va="center", ha="left")
ov.plot([618, 632], [1013, 1013], color=taxon_colors["navus"], lw=2.5)
chain(642, 1013, [("T. b. navus", "bold", "italic", 4), ("all", "bold", "normal", 0)], 14, "#333333")
key_item(643, 1036, sub_colors["navus_C"], "Center", size=SUB_SIZE, style="normal", tcolor="#333333")
key_item(643, 1055, sub_colors["navus_E"], "East", size=SUB_SIZE, style="normal", tcolor="#333333")
key_item(643, 1074, sub_colors["navus_N"], "North", size=SUB_SIZE, style="normal", tcolor="#333333")
key_item(643, 1093, sub_colors["navus_S"], "South", size=SUB_SIZE, style="normal", tcolor="#333333")
key_item(643, 1112, sub_colors["navus_W"], "West", size=SUB_SIZE, style="normal", tcolor="#333333")

plt.savefig("out.png", dpi=100, facecolor="white")
